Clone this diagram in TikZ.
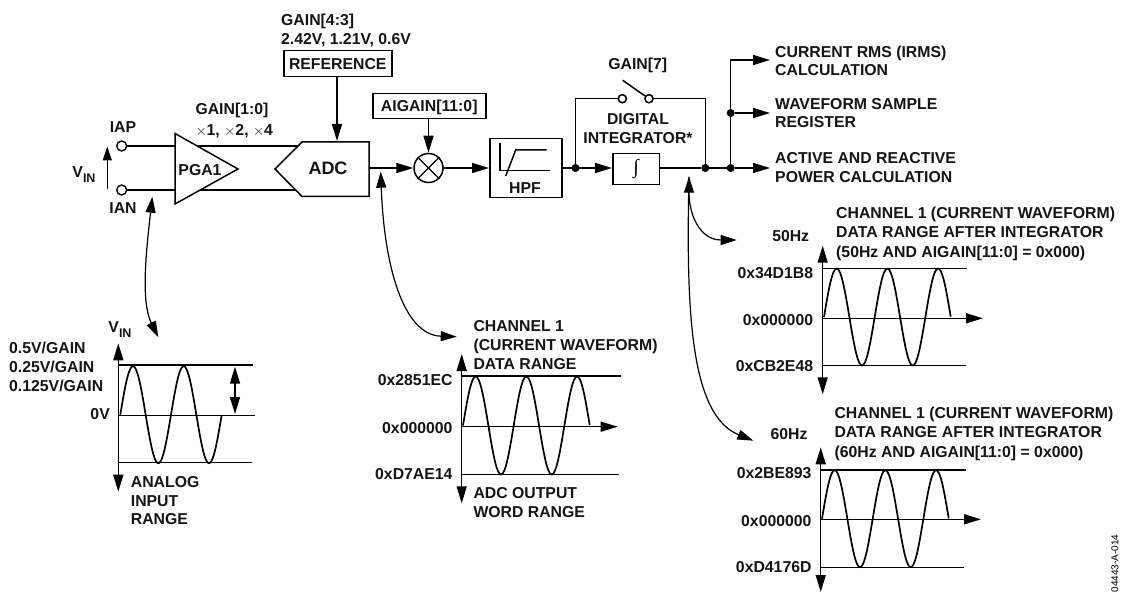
\documentclass[tikz,border=0pt]{standalone}
\usepackage{fontspec}
\setmainfont{Liberation Sans}
\newfontfamily\symfont{Liberation Serif}
\usetikzlibrary{arrows.meta,calc}
\tikzset{
  wire/.style={line width=1.5pt,black},
  thinw/.style={line width=1.3pt,black},
  arr/.style={wire,-{Triangle[length=17pt,width=10pt]}},
  darr/.style={wire,{Triangle[length=17pt,width=10pt]}-{Triangle[length=17pt,width=10pt]}},
  curv/.style={line width=1.2pt,{Triangle[length=16pt,width=10pt]}-{Triangle[length=16pt,width=10pt]}},
  curvr/.style={line width=1.2pt,-{Triangle[length=16pt,width=10pt]}},
  lbl/.style={font=\fontsize{15.8}{18}\selectfont\bfseries,inner sep=0pt,text=black!92,text height=11.3pt,text depth=0pt},
  lleft/.style={lbl,anchor=west},
  lright/.style={lbl,anchor=east},
  boxn/.style={draw,line width=1.5pt,inner sep=0pt,anchor=north west},
  dot/.style={circle,fill=black,draw=black,inner sep=0pt,minimum size=7.5pt},
  term/.style={circle,fill=white,draw=black,line width=1.4pt,inner sep=0pt,minimum size=10pt},
  sw/.style={circle,fill=white,draw=black,line width=1.4pt,inner sep=0pt,minimum size=8pt},
}
\newcommand{\sinewave}[5]{% x0, yzero, amp, periods, period
  \draw[line width=1.7pt] plot[smooth,samples=90,domain=0:#4] ({#1+#5*\x},{#2-#3*sin(360*\x)});
}
\newcommand{\vinlabel}{V\raisebox{-0.28em}{\fontsize{12.5}{14}\selectfont IN}}
\begin{document}
\begin{tikzpicture}[x=1pt,y=-1pt]
\useasboundingbox (0,0) rectangle (1123,593);
% input
\node[term] (iap) at (121.7,146) {};
\node[term] (ian) at (121.7,190) {};
\node[lbl] (iapl) at (123,127) {IAP};
\node[lbl] (ianl) at (123,207.5) {IAN};
\node[lbl] (vinl) at (84,172) {\vinlabel};
\coordinate (va) at (107.3,189);
\coordinate (vb) at (107.3,146.5);
\draw[wire,-{Triangle[length=14pt,width=9pt]}] (va) -- (vb);
% bus between PGA and ADC
\coordinate (pgat) at (175,146);
\coordinate (pgab) at (175,190);
\coordinate (adct) at (302,146);
\coordinate (adcb) at (302,190);
\draw[wire] (iap) -- (pgat) -- (adct);
\draw[wire] (ian) -- (pgab) -- (adcb);
% PGA
\draw[wire,fill=white,line join=miter] (175,133.5) -- (238,169) -- (175,204) -- cycle;
\node[lbl] (pga) at (200,170) {PGA1};
% ADC
\draw[wire,fill=white] (275,169) -- (302,142) -- (369,142) -- (369,196.5) -- (302,196.5) -- cycle;
\node[lbl,font=\fontsize{18}{20}\selectfont\bfseries,text height=12.9pt] (adc) at (328,168) {ADC};
\coordinate (adcin) at (337,141);
\coordinate (adcout) at (369.5,168);
\node[lleft] (g10) at (195.3,109) {GAIN[1:0]};
\node[lleft] (g10b) at (195.3,129.5) {{\fontseries{m}\selectfont$\times$}1, {\fontseries{m}\selectfont$\times$}2, {\fontseries{m}\selectfont$\times$}4};
\node[lleft] (g43) at (281,20) {GAIN[4:3]};
\node[lleft] (g43b) at (281,39) {2.42V, 1.21V, 0.6V};
\node[boxn,minimum width=108pt,minimum height=26pt] (ref) at (283,50) {};
\node[lbl] (reft) at (ref.center) {REFERENCE};
\draw[arr] (ref.south -| adcin) -- (adcin);
\node[boxn,minimum width=113pt,minimum height=25pt] (aig) at (372,93) {};
\node[lbl] (aigt) at (aig.center) {AIGAIN[11:0]};
\node[circle,draw,line width=1.5pt,minimum size=29pt,inner sep=0pt] (mul) at (428.5,168) {};
\draw[line width=1.1pt] (mul.45) -- (mul.225) (mul.135) -- (mul.315);
\draw[arr] (aig.south -| mul) -- (mul.north);
\draw[arr] (adcout) -- (mul.west);
% HPF
\node[boxn,minimum width=72pt,minimum height=59pt] (hpf) at (489,137.7) {};
\draw[wire] (500,142.7) -- (500,170.3) -- (550,170.3);
\draw[wire] (505.7,176) -- (515.7,150) -- (546.7,150);
\node[lbl] (hpfl) at (525,187.5) {HPF};
\draw[arr] (mul.east) -- (hpf.west |- mul);
% integrator
\node[boxn,minimum width=46.7pt,minimum height=31pt] (int) at (612,153) {};
\node[inner sep=0pt,font=\symfont\itshape\fontsize{20}{20}\selectfont] (intt) at (int.center) {∫};
\node[dot] (d1) at (575.5,168) {};
\node[dot] (d2) at (705.3,168) {};
\node[dot] (d3) at (730.7,168) {};
\node[dot] (d4) at (730.7,113) {};
\node[sw] (s1) at (622.3,98.7) {};
\node[sw] (s2) at (649,98.7) {};
\coordinate (s0) at (622.7,80.3);
\coordinate (s3) at (645,96);
\draw[wire] (hpf.east |- d1) -- (d1);
\draw[arr] (d1) -- (int.west |- d1);
\draw[wire] (int.east |- d2) -- (d2) -- (d3);
\draw[wire] (d1) |- (s1);
\draw[wire] (d2) |- (s2);
\draw[wire] (s0) -- (s3);
\node[sw] at (s1) {};
\node[sw] at (s2) {};
\coordinate (o1) at (770,60);
\coordinate (o2) at (770,113);
\coordinate (o3) at (770,168);
\draw[arr] (d3) -- (o3);
\draw[arr] (d4) -- (o2);
\draw[arr] (d3) |- (o1);
\node[lbl] (g7) at (637.7,64) {GAIN[7]};
\node[lbl] (di1) at (638,119) {DIGITAL};
\node[lbl] (di2) at (638,138) {INTEGRATOR*};
\node[lleft] (t1) at (775,52) {CURRENT RMS (IRMS)};
\node[lleft] (t2) at (775,70) {CALCULATION};
\node[lleft] (t3) at (775,104) {WAVEFORM SAMPLE};
\node[lleft] (t4) at (775,122) {REGISTER};
\node[lleft] (t5) at (775,158) {ACTIVE AND REACTIVE};
\node[lleft] (t6) at (775,177) {POWER CALCULATION};
% curved arrows
\coordinate (ca1) at (152.3,196.7);
\coordinate (ca2) at (158.3,337.3);
\draw[curv] (ca1) .. controls (147,245) and (140,300) .. (ca2);
\coordinate (cb1) at (380.7,171.7);
\coordinate (cb2) at (456.7,336.7);
\draw[curv] (cb1) .. controls (384,265) and (403,335) .. (cb2);
\coordinate (cc1) at (689,176.7);
\coordinate (cc2) at (736.7,240);
\draw[curv] (cc1) .. controls (689,215) and (700,240) .. (cc2);
\coordinate (cc3) at (753.3,440.7);
\draw[curvr] (cc1) .. controls (686,310) and (690,415) .. (cc3);
% waveform 1
\coordinate (w1t) at (118.3,343.3);
\coordinate (w1b) at (118.3,491.7);
\draw[darr] (w1b) -- (w1t);
\draw[thinw] (118.3,365) -- (253,365);
\draw[wire] (118.3,415.7) -- (255,415.7);
\draw[thinw] (118.3,462.7) -- (251.7,462.7);
\sinewave{120.3}{414.7}{48.5}{2}{50.7}
\coordinate (da) at (235,366.7);
\coordinate (db) at (235,414);
\draw[darr] (da) -- (db);
\node[lbl] (vin2) at (120,327) {\vinlabel};
\node[lleft] (a1) at (9,348) {0.5V/GAIN};
\node[lleft] (a2) at (9,367) {0.25V/GAIN};
\node[lleft] (a3) at (9,385.5) {0.125V/GAIN};
\node[lright] (a4) at (110,413.5) {0V};
\node[lleft] (a5) at (130.7,481.7) {ANALOG};
\node[lleft] (a6) at (130.7,500.7) {INPUT};
\node[lleft] (a7) at (130.7,518.7) {RANGE};
% waveform 2
\coordinate (w2t) at (461.7,354);
\coordinate (w2b) at (461.7,503.3);
\draw[darr] (w2b) -- (w2t);
\draw[thinw] (461.7,376) -- (621,376);
\draw[thinw] (461.7,474.3) -- (619,474.3);
\coordinate (w2o) at (461.7,426.7);
\coordinate (w2e) at (617.7,426.7);
\draw[arr] (w2o) -- (w2e);
\sinewave{463}{425.5}{49}{2.5}{50.7}
\node[lleft] (b1) at (473.3,326) {CHANNEL 1};
\node[lleft] (b2) at (473.3,345) {(CURRENT WAVEFORM)};
\node[lleft] (b3) at (473.3,364) {DATA RANGE};
\node[lright] (b4) at (452.7,380) {0x2851EC};
\node[lright] (b5) at (452.7,427.7) {0x000000};
\node[lright] (b6) at (452.7,474.3) {0xD7AE14};
\node[lleft] (b7) at (473.3,492.7) {ADC OUTPUT};
\node[lleft] (b8) at (473.3,511.7) {WORD RANGE};
% waveform 3
\coordinate (w3t) at (822.7,245.7);
\coordinate (w3b) at (822.7,394.3);
\draw[darr] (w3b) -- (w3t);
\draw[thinw] (822.7,268.3) -- (966.7,268.3);
\draw[thinw] (822.7,365.3) -- (965.7,365.3);
\coordinate (w3o) at (822.7,318.3);
\coordinate (w3e) at (983,318.3);
\draw[arr] (w3o) -- (w3e);
\sinewave{824}{317}{48.5}{2.5}{50.7}
\node[lbl] (c0) at (790.7,236) {50Hz};
\node[lleft] (c1) at (836,213.3) {CHANNEL 1 (CURRENT WAVEFORM)};
\node[lleft] (c2) at (836,232) {DATA RANGE AFTER INTEGRATOR};
\node[lleft] (c3) at (836,251.7) {(50Hz AND AIGAIN[11:0] = 0x000)};
\node[lright] (c4) at (813.3,272.7) {0x34D1B8};
\node[lright] (c5) at (813.3,320) {0x000000};
\node[lright] (c6) at (813.3,366) {0xCB2E48};
% waveform 4
\coordinate (w4t) at (820.7,447.3);
\coordinate (w4b) at (820.7,592);
\draw[darr] (w4b) -- (w4t);
\draw[thinw] (820.7,470) -- (966,470);
\draw[thinw] (820.7,567.3) -- (964,567.3);
\coordinate (w4o) at (820.7,519.3);
\coordinate (w4e) at (981,519.3);
\draw[arr] (w4o) -- (w4e);
\sinewave{822}{518.7}{48.5}{2.5}{50.7}
\node[lbl] (e0) at (789,434) {60Hz};
\node[lleft] (e1) at (834.3,413.3) {CHANNEL 1 (CURRENT WAVEFORM)};
\node[lleft] (e2) at (834.3,432.3) {DATA RANGE AFTER INTEGRATOR};
\node[lleft] (e3) at (834.3,452.3) {(60Hz AND AIGAIN[11:0] = 0x000)};
\node[lright] (e4) at (811.7,473.3) {0x2BE893};
\node[lright] (e5) at (811.7,521) {0x000000};
\node[lright] (e6) at (811.7,567.3) {0xD4176D};
\node[font=\fontsize{10}{12}\selectfont,rotate=90,anchor=east,inner sep=0pt] (fig) at (1115,534.5) {04443-A-014};
\end{tikzpicture}
\end{document}
